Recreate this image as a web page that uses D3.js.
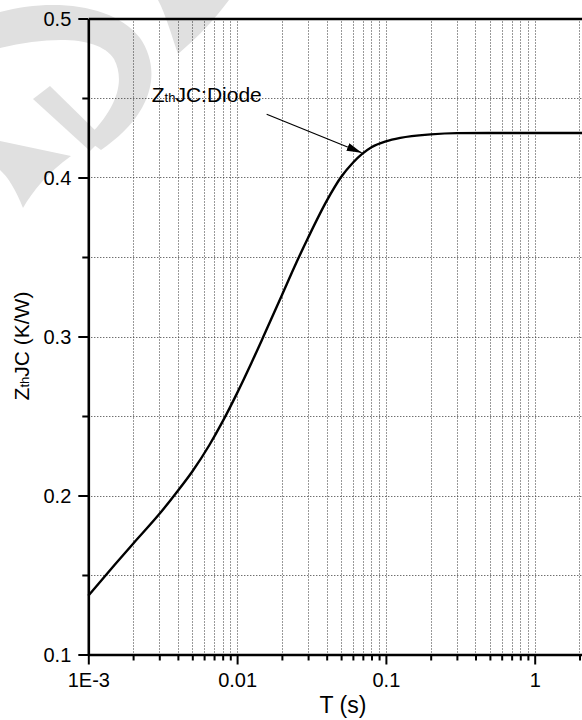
<!DOCTYPE html>
<html>
<head>
<meta charset="utf-8">
<script src="https://cdn.jsdelivr.net/npm/d3@7"></script>
<style>
  body { margin: 0; background: #fff; }
  svg { display: block; }
  text { font-family: Arial, "Liberation Sans", Helvetica, sans-serif; fill: #000; }
</style>
</head>
<body>
<svg id="chart" width="582" height="720"></svg>
<script>
// Transient thermal impedance, junction to case, of the diode
const timeS = [0.001, 0.0015, 0.002, 0.003, 0.004, 0.005, 0.0065, 0.008, 0.01, 0.0125,
               0.015, 0.02, 0.025, 0.03, 0.04, 0.05, 0.06, 0.08, 0.1, 0.125,
               0.2, 0.3, 0.5, 1, 2.6];
const zthJC = [0.137, 0.1563, 0.1697, 0.1883, 0.2030, 0.2151, 0.2316, 0.2466, 0.2644, 0.2835,
               0.2998, 0.3260, 0.3464, 0.3621, 0.3853, 0.4003, 0.4093, 0.4190, 0.4227, 0.4249,
               0.4271, 0.4279, 0.4280, 0.4280, 0.4280];

// Axis ticks and labels
const xMajor = [0.001, 0.01, 0.1, 1];
const xLabels = ["1E-3", "0.01", "0.1", "1"];
const xMinorFactors = [2, 3, 4, 5, 6, 7, 8, 9];
const yMajor = [0.1, 0.2, 0.3, 0.4, 0.5];
const yLabels = ["0.1", "0.2", "0.3", "0.4", "0.5"];
const yMinor = [0.15, 0.25, 0.35, 0.45];

// Annotation
const noteLabel = { t: 0.00267, z: 0.4477 };
const noteArrow = { t0: 0.0158, z0: 0.4398, t1: 0.0688, z1: 0.4156 };

const xMin = 0.001, xMax = 2.6;
const plotLeft = 88.3, plotTop = 18.5, plotBottom = 654.5;
const decadePx = 148.8;

const x = d3.scaleLog().domain([xMin, xMax])
  .range([plotLeft, plotLeft + decadePx * Math.log10(xMax / xMin)]);
const y = d3.scaleLinear().domain([0.1, 0.5]).range([plotBottom, plotTop]);

const xMinor = [];
xMajor.forEach(d => xMinorFactors.forEach(f => { if (d * f <= xMax) xMinor.push(d * f); }));

const svg = d3.select("#chart");

// Background watermark
const wm = svg.append("g").attr("fill", "#e0e0e0");
wm.append("path").attr("d", "M0,12 C52,-2 114,4 140,38 C162,70 154,114 101,150 L86,139 C116,110 126,82 114,59 C99,36 52,36 0,48 Z");
wm.append("path").attr("d", "M33,99 L50,86 L103,138 L90,151 Z");
wm.append("path").attr("d", "M0,141 L71,156 C48,172 32,192 23,208 C16,190 8,177 0,170 Z");
wm.append("path").attr("d", "M158,0 L229,0 C215,19 197,38 178,54 C171,34 166,15 158,0 Z");

// Grid lines
const grid = svg.append("g")
  .attr("stroke", "#333").attr("stroke-width", 1).attr("stroke-dasharray", "1,2").attr("fill", "none");
grid.selectAll("line.vx")
  .data(xMinor.concat(xMajor.filter(d => d > xMin)))
  .join("line")
  .attr("x1", d => Math.round(x(d)) + 0.5).attr("x2", d => Math.round(x(d)) + 0.5)
  .attr("y1", plotTop).attr("y2", plotBottom);
grid.selectAll("line.hy")
  .data(yMinor.concat(yMajor.filter(d => d > 0.1 && d < 0.5)))
  .join("line")
  .attr("x1", plotLeft).attr("x2", 582)
  .attr("y1", d => Math.round(y(d)) + 0.5).attr("y2", d => Math.round(y(d)) + 0.5);

// Curve
const line = d3.line()
  .x((d, i) => x(timeS[i]))
  .y(d => y(d))
  .curve(d3.curveMonotoneX);
svg.append("path")
  .attr("d", line(zthJC))
  .attr("fill", "none").attr("stroke", "#000").attr("stroke-width", 2.4)
  .attr("stroke-linejoin", "round");

// Axes
function styleAxis(g, width) {
  g.select(".domain").attr("stroke", "#000").attr("stroke-width", width);
  g.selectAll(".tick line").attr("stroke", "#000").attr("stroke-width", 2);
}

const xAxisMinor = svg.append("g").attr("transform", `translate(0,${plotBottom})`)
  .call(d3.axisBottom(x).tickValues(xMinor).tickSize(6).tickSizeOuter(0).tickFormat(""));
xAxisMinor.select(".domain").remove();
xAxisMinor.selectAll(".tick line").attr("stroke", "#000").attr("stroke-width", 2);

const xAxis = svg.append("g").attr("transform", `translate(0,${plotBottom})`)
  .call(d3.axisBottom(x).tickValues(xMajor).tickSize(10).tickSizeOuter(0)
    .tickFormat((d, i) => xLabels[i]));
styleAxis(xAxis, 2.6);
xAxis.selectAll(".tick text").attr("font-size", 20).attr("dy", null).attr("y", 32);

const topAxis = svg.append("g").attr("transform", `translate(0,${plotTop})`)
  .call(d3.axisTop(x).tickValues([]).tickSizeOuter(0));
styleAxis(topAxis, 2.6);

const yAxisMinor = svg.append("g").attr("transform", `translate(${plotLeft},0)`)
  .call(d3.axisLeft(y).tickValues(yMinor).tickSize(6).tickSizeOuter(0).tickFormat(""));
yAxisMinor.select(".domain").remove();
yAxisMinor.selectAll(".tick line").attr("stroke", "#000").attr("stroke-width", 2);

const yAxis = svg.append("g").attr("transform", `translate(${plotLeft},0)`)
  .call(d3.axisLeft(y).tickValues(yMajor).tickSize(10).tickSizeOuter(0)
    .tickPadding(7).tickFormat((d, i) => yLabels[i]));
styleAxis(yAxis, 2.6);
yAxis.selectAll(".tick text").attr("font-size", 20).attr("dy", "0.36em");

// Axis titles
svg.append("text")
  .attr("x", 343).attr("y", 712.5)
  .attr("text-anchor", "middle").attr("font-size", 23)
  .text("T (s)");

const yTitle = svg.append("text")
  .attr("transform", "translate(29,346) rotate(-90)")
  .attr("text-anchor", "middle").attr("font-size", 21);
yTitle.append("tspan").text("Z");
yTitle.append("tspan").attr("font-size", 13).text("th");
yTitle.append("tspan").text("JC (K/W)");

// Annotation with arrow
svg.append("defs").append("marker")
  .attr("id", "arrowhead")
  .attr("viewBox", "0 0 15 8").attr("refX", 15).attr("refY", 4)
  .attr("markerWidth", 15).attr("markerHeight", 8)
  .attr("markerUnits", "userSpaceOnUse").attr("orient", "auto")
  .append("path").attr("d", "M0,0 L15,4 L0,8 Z").attr("fill", "#000");

svg.append("line")
  .attr("x1", x(noteArrow.t0)).attr("y1", y(noteArrow.z0))
  .attr("x2", x(noteArrow.t1)).attr("y2", y(noteArrow.z1))
  .attr("stroke", "#000").attr("stroke-width", 1.2)
  .attr("marker-end", "url(#arrowhead)");

const note = svg.append("text")
  .attr("x", x(noteLabel.t)).attr("y", y(noteLabel.z))
  .attr("font-size", 21);
note.append("tspan").text("Z");
note.append("tspan").attr("font-size", 13).text("th");
note.append("tspan").text("JC:Diode");
</script>
</body>
</html>
